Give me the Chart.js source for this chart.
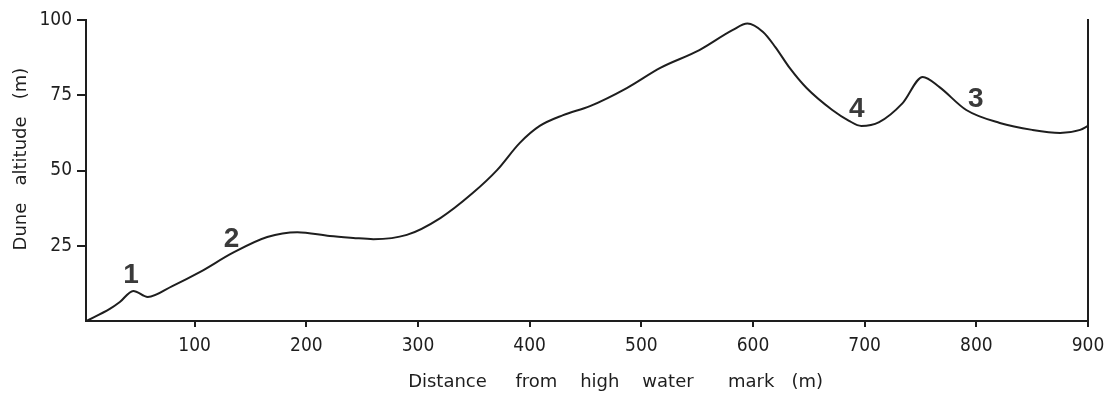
<!DOCTYPE html>
<html>
<head>
<meta charset="UTF-8">
<title>Dune profile</title>
<script src="https://cdn.jsdelivr.net/npm/chart.js"></script>
<style>
  html, body { margin: 0; padding: 0; background: #fff; }
  #wrap { width: 1107px; height: 398px; }
</style>
</head>
<body>
<div id="wrap"><canvas id="chart"></canvas></div>
<script>
// profile across the dunes: distance (m) and altitude (m)
const distance = [3, 24, 33, 45, 58, 80, 105, 134, 165, 192, 221, 242, 260, 290, 320, 349, 371, 391, 409, 430,
                  454, 487, 517, 552, 582, 595, 609, 620, 633, 648, 671, 686, 697, 713, 734, 752, 767, 791, 821,
                  850, 875, 893, 900];
const altitude = [0, 4, 6.3, 10, 8, 11.6, 16.3, 22.6, 27.9, 29.5, 28.2, 27.6, 27.2, 28.6, 34.2, 42.5, 50.2, 59.1, 64.8, 68.4,
                  71.4, 77.4, 84.1, 90.0, 96.7, 98.8, 96.0, 91.0, 84.0, 77.4, 70.1, 66.5, 64.8, 66.1, 72.4, 81.1, 77.7, 70.1, 65.8,
                  63.5, 62.5, 63.5, 64.8];

// numbered dune ridges
const markText = ['1', '2', '4', '3'];
const markX = [43, 133, 693, 799.5];
const markY = [12.6, 24.6, 67.8, 71.1];

const xTicks = [100, 200, 300, 400, 500, 600, 700, 800, 900];
const yTicks = [25, 50, 75, 100];

const ink = '#1e1e1e';
const tickFont = { family: "'DejaVu Sans Condensed', 'DejaVu Sans'", size: 19 };
const titleFont = { family: "'DejaVu Sans'", size: 18 };

const markLabels = {
  id: 'markLabels',
  afterDatasetsDraw(chart) {
    const { ctx, scales: { x, y } } = chart;
    ctx.save();
    ctx.fillStyle = '#3a3a3a';
    ctx.font = "bold 28px 'Liberation Sans', Arial, sans-serif";
    ctx.textAlign = 'center';
    ctx.textBaseline = 'alphabetic';
    markText.forEach((t, i) => {
      ctx.fillText(t, x.getPixelForValue(markX[i]), y.getPixelForValue(markY[i]));
    });
    ctx.restore();
  }
};

new Chart(document.getElementById('chart'), {
  type: 'line',
  data: {
    datasets: [{
      data: distance.map((d, i) => ({ x: d, y: altitude[i] })),
      borderColor: ink,
      borderWidth: 2,
      pointRadius: 0,
      cubicInterpolationMode: 'monotone',
      fill: false
    }]
  },
  options: {
    responsive: true,
    maintainAspectRatio: false,
    animation: false,
    layout: { padding: { top: 20, right: 19, bottom: 0, left: 0 } },
    plugins: { legend: { display: false }, tooltip: { enabled: false } },
    scales: {
      x: {
        type: 'linear',
        min: 2.7,
        max: 900,
        afterBuildTicks: s => { s.ticks = xTicks.map(v => ({ value: v })); },
        afterFit: s => { s.height = 77; s.paddingLeft = 0; s.paddingRight = 0; },
        grid: { drawOnChartArea: false, drawTicks: true, tickLength: 6, color: ink, lineWidth: 2 },
        border: { display: true, color: ink, width: 2 },
        ticks: { color: ink, font: tickFont, padding: 8, maxRotation: 0, autoSkip: false },
        title: {
          display: true,
          text: '          Distance     from    high    water      mark   (m)',
          color: ink,
          font: titleFont,
          padding: { top: 0, bottom: 5 }
        }
      },
      y: {
        min: 0,
        max: 100,
        afterBuildTicks: s => { s.ticks = yTicks.map(v => ({ value: v })); },
        afterFit: s => { s.width = 86; },
        grid: { drawOnChartArea: false, drawTicks: true, tickLength: 9, color: ink, lineWidth: 2 },
        border: { display: true, color: ink, width: 2 },
        ticks: { color: ink, font: tickFont, padding: 5 },
        title: {
          display: true,
          text: '    Dune   altitude   (m)',
          color: ink,
          font: titleFont,
          padding: { top: 11, bottom: 0 }
        }
      },
      yRight: {
        position: 'right',
        min: 0,
        max: 100,
        afterFit: s => { s.width = 0; },
        grid: { display: false },
        border: { display: true, color: ink, width: 2 },
        ticks: { display: false }
      }
    }
  },
  plugins: [markLabels]
});
</script>
</body>
</html>
